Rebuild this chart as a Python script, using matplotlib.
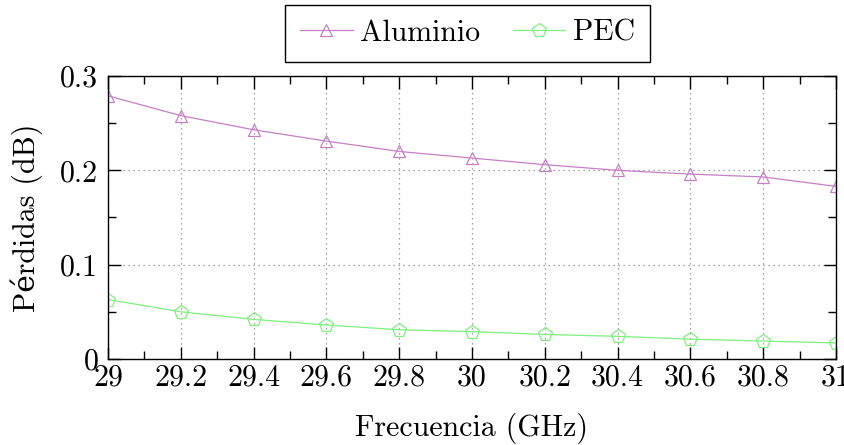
import matplotlib.pyplot as plt
import numpy as np
from matplotlib.ticker import MultipleLocator

# Pérdidas de inserción frente a frecuencia
freq = [29.0, 29.2, 29.4, 29.6, 29.8, 30.0, 30.2, 30.4, 30.6, 30.8, 31.0]
aluminio = [0.279, 0.258, 0.243, 0.231, 0.220, 0.213, 0.206, 0.200, 0.196, 0.193, 0.183]
pec = [0.063, 0.050, 0.042, 0.036, 0.031, 0.029, 0.026, 0.024, 0.021, 0.019, 0.017]
xlabels = ['29', '29.2', '29.4', '29.6', '29.8', '30', '30.2', '30.4', '30.6', '30.8', '31']
yvals = [0, 0.1, 0.2, 0.3]
ylabels = ['0', '0.1', '0.2', '0.3']

plt.rcParams['font.family'] = ['cmr10', 'DejaVu Serif']
plt.rcParams['mathtext.fontset'] = 'cm'
plt.rcParams['font.size'] = 21.5

fig = plt.figure(figsize=(8.45, 4.45), dpi=100)
ax = fig.add_axes([0.1278, 0.1933, 0.8615, 0.6359])

ax.plot(freq, aluminio, color='#c77fc7', lw=0.9, marker='^', markersize=9,
        markerfacecolor='none', markeredgewidth=0.9, label='Aluminio')
ax.plot(freq, pec, color='#7ff07f', lw=0.9, marker='p', markersize=10,
        markerfacecolor='none', markeredgewidth=0.9, label='PEC')

ax.set_xlim(29, 31)
ax.set_ylim(0, 0.3)
ax.set_xticks(freq, xlabels)
ax.set_yticks(yvals, ylabels)
ax.xaxis.set_minor_locator(MultipleLocator(0.1))
ax.yaxis.set_minor_locator(MultipleLocator(0.05))

ax.tick_params(which='both', direction='in', top=True, right=True, width=1.0)
ax.tick_params(which='major', length=9)
ax.tick_params(axis='x', which='major', pad=4)
ax.tick_params(axis='y', which='major', pad=7)
ax.tick_params(which='minor', length=6)
ax.grid(True, which='major', linestyle=(0, (1, 3)), color='#888888', lw=0.9)
for s in ax.spines.values():
    s.set_linewidth(1.0)

ax.set_xlabel('Frecuencia (GHz)', labelpad=15)
ax.set_ylabel('Pérdidas (dB)', labelpad=12)

leg = ax.legend(loc='lower center', bbox_to_anchor=(0.494, 1.05), ncol=2,
                fancybox=False, edgecolor='black', framealpha=1,
                handlelength=1.75, columnspacing=1.1, handletextpad=0.25,
                borderpad=0.5, borderaxespad=0)
leg.get_frame().set_linewidth(1.0)

fig.savefig('out.png', dpi=100)
